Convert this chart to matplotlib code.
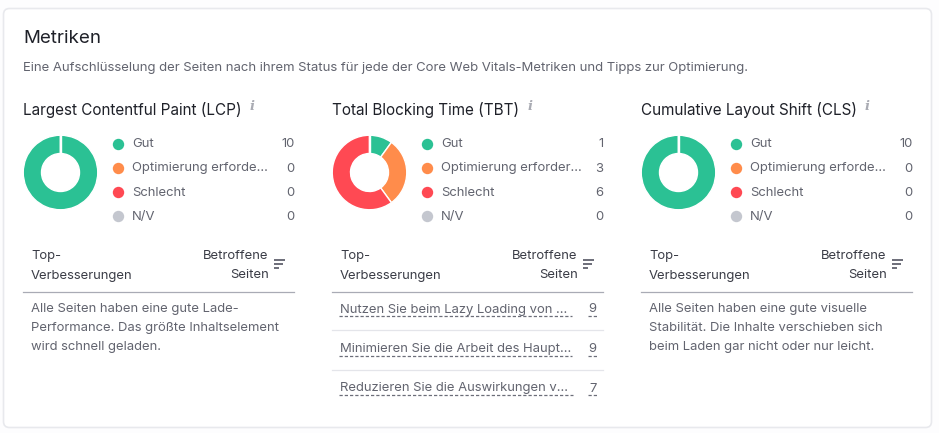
"""Core Web Vitals card: three donuts with legend counts and improvement tables."""

import matplotlib
matplotlib.use("Agg")
from matplotlib import pyplot as plt
from matplotlib.patches import FancyBboxPatch

plt.rcParams["font.family"] = ["Inter", "DejaVu Sans"]

W, H = 939, 433

STATUS = ["Gut", "Optimierung erfordert", "Schlecht", "N/V"]
COLORS = ["#2bc194", "#ff8c4b", "#ff4953", "#c4c7cf"]

METRICS = ["Largest Contentful Paint (LCP)", "Total Blocking Time (TBT)",
           "Cumulative Layout Shift (CLS)"]
LCP_COUNTS = [10, 0, 0, 0]
TBT_COUNTS = [1, 3, 6, 0]
CLS_COUNTS = [10, 0, 0, 0]
COUNTS = [LCP_COUNTS, TBT_COUNTS, CLS_COUNTS]
LEGEND_LABELS = [
    ["Gut", "Optimierung erforde...", "Schlecht", "N/V"],
    ["Gut", "Optimierung erforder...", "Schlecht", "N/V"],
    ["Gut", "Optimierung erforde...", "Schlecht", "N/V"],
]

LCP_NOTE = ["Alle Seiten haben eine gute Lade-",
            "Performance. Das größte Inhaltselement",
            "wird schnell geladen."]
CLS_NOTE = ["Alle Seiten haben eine gute visuelle",
            "Stabilität. Die Inhalte verschieben sich",
            "beim Laden gar nicht oder nur leicht."]
TBT_FIXES = ["Nutzen Sie beim Lazy Loading von ...",
             "Minimieren Sie die Arbeit des Haupt...",
             "Reduzieren Sie die Auswirkungen v..."]
TBT_PAGES = [9, 9, 7]
TBT_FIX_ENDS = [572, 572, 573]   # where each dashed underline stops

DARK = "#1f2129"
GREY = "#62646f"

fig = plt.figure(figsize=(W / 100, H / 100), dpi=100, facecolor="#fdfdfe")
ax = fig.add_axes([0, 0, 1, 1])
ax.set_xlim(0, W)
ax.set_ylim(H, 0)
ax.axis("off")

ax.add_patch(FancyBboxPatch((3.5, 8.5), 928, 419,
                            boxstyle="round,pad=0,rounding_size=6",
                            fc="white", ec="#e8e9ed", lw=1.2, zorder=0))


def label(x, y, s, size=9.4, color=GREY, ha="left", **kw):
    return ax.text(x, y, s, fontsize=size, color=color, ha=ha, va="center", **kw)


label(23, 38.5, "Metriken", size=13.5, color=DARK)
label(23, 67.5, "Eine Aufschlüsselung der Seiten nach ihrem Status für jede der "
      "Core Web Vitals-Metriken und Tipps zur Optimierung.", size=9.45)

for i, (metric, counts) in enumerate(zip(METRICS, COUNTS)):
    x0 = 23 + 309 * i

    t = label(x0, 109.5, metric, size=11, color=DARK)
    fig.canvas.draw()
    right = t.get_window_extent().x1
    label(right + 8, 106.5, "i", size=9.5, color="#a9abb3",
          family="DejaVu Serif", style="italic", weight="bold")

    # donut, drawn clockwise from twelve o'clock
    dax = fig.add_axes([(x0 - 0.5) / W, 1 - 210.5 / H, 76 / W, 76 / H])
    dax.pie(counts, colors=COLORS, startangle=90, counterclock=False, radius=1.0,
            wedgeprops=dict(width=0.49, ec="white", lw=1.0))
    dax.plot([0, 0], [0.5, 1.02], color="white", lw=1.0, zorder=5)
    dax.set_xlim(-1.02, 1.02)
    dax.set_ylim(-1.02, 1.02)

    # legend rows
    for j, (name, n, c) in enumerate(zip(LEGEND_LABELS[i], counts, COLORS)):
        y = 143.5 + 24.2 * j
        ax.plot(x0 + 95, y, "o", ms=8.2, color=c, mew=0, zorder=3)
        label(x0 + 109, y + 0.8, name)
        label(x0 + 271.5, y + 0.8, str(n), ha="right")

    # table head
    label(x0 + 8, 256, "Top-", color="#3a3c46")
    label(x0 + 8, 275.5, "Verbesserungen", color="#3a3c46")
    label(x0 + 245.5, 256, "Betroffene", color="#3a3c46", ha="right")
    label(x0 + 245.5, 275.5, "Seiten", color="#3a3c46", ha="right")
    for yy, x1 in [(260, 16), (264, 14), (268, 10)]:
        ax.plot([x0 + 251, x0 + 251 + x1 - 5], [yy, yy], color="#6c6e79",
                lw=1.4, solid_capstyle="butt")
    ax.plot([x0, x0 + 271], [291.5, 291.5], color="#a9abb5", lw=0.9)

    # table body
    if i == 1:
        for k, (fix, pages, end) in enumerate(zip(TBT_FIXES, TBT_PAGES, TBT_FIX_ENDS)):
            y = 309.5 + 39.5 * k
            label(x0 + 8, y, fix)
            label(x0 + 264.5, y, str(pages), ha="right")
            ul = y + 6.5
            ax.plot([x0 + 7, end], [ul, ul], color="#6c6e79", lw=0.9, ls=(0, (2.6, 1.6)))
            ax.plot([x0 + 256, x0 + 265.5], [ul, ul], color="#6c6e79", lw=0.9,
                    ls=(0, (2.6, 1.6)))
            if k < 2:
                ax.plot([x0, x0 + 271], [y + 20.5, y + 20.5], color="#e4e5ea", lw=0.9)
    else:
        note = LCP_NOTE if i == 0 else CLS_NOTE
        for k, line in enumerate(note):
            label(x0 + 8, 309 + 19.2 * k, line)

fig.savefig("out.png", dpi=100, facecolor=fig.get_facecolor())
